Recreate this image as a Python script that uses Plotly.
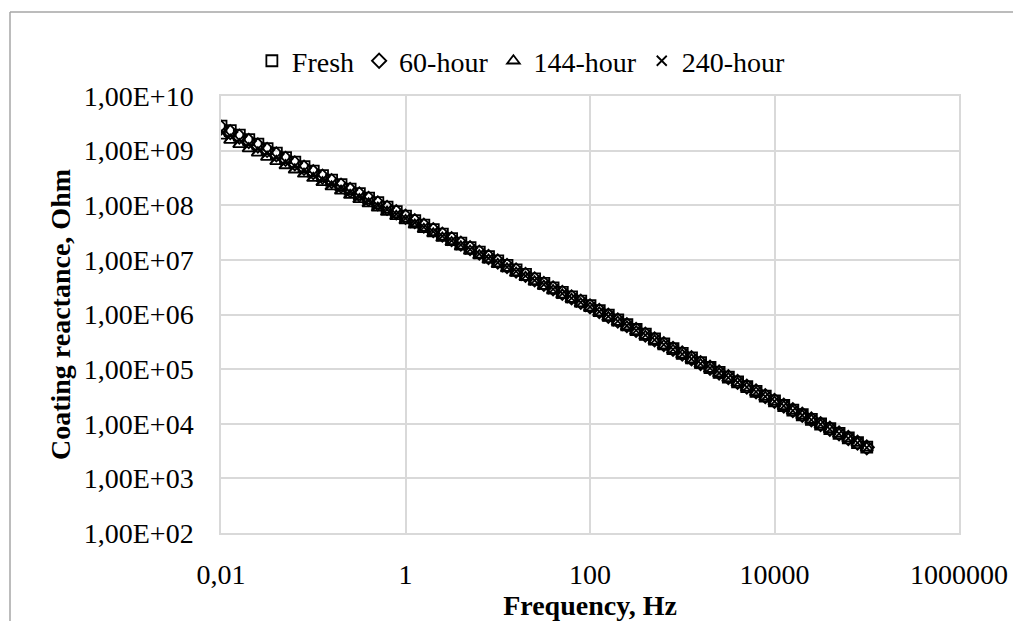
import plotly.graph_objects as go

# Frequencies (Hz), 10 points per decade
freq = [0.01, 0.0126, 0.0158, 0.02, 0.0251, 0.0316, 0.0398, 0.0501, 0.0631, 0.0794,
        0.1, 0.126, 0.158, 0.2, 0.251, 0.316, 0.398, 0.501, 0.631, 0.794,
        1, 1.26, 1.58, 2, 2.51, 3.16, 3.98, 5.01, 6.31, 7.94,
        10, 12.6, 15.8, 20, 25.1, 31.6, 39.8, 50.1, 63.1, 79.4,
        100, 126, 158, 200, 251, 316, 398, 501, 631, 794,
        1000, 1260, 1580, 2000, 2510, 3160, 3980, 5010, 6310, 7940,
        10000, 12600, 15800, 20000, 25100, 31600, 39800, 50100, 63100, 79400, 100000]

fresh = [2.82e9, 2.33e9, 1.93e9, 1.59e9, 1.32e9, 1.09e9, 9.02e8, 7.46e8, 6.17e8, 5.10e8,
         4.22e8, 3.49e8, 2.88e8, 2.39e8, 1.97e8, 1.63e8, 1.35e8, 1.12e8, 9.23e7, 7.63e7,
         6.31e7, 5.22e7, 4.33e7, 3.58e7, 2.96e7, 2.45e7, 2.03e7, 1.68e7, 1.39e7, 1.15e7,
         9.55e6, 7.91e6, 6.55e6, 5.42e6, 4.49e6, 3.72e6, 3.08e6, 2.55e6, 2.11e6, 1.75e6,
         1.45e6, 1.18e6, 9.68e5, 7.93e5, 6.49e5, 5.31e5, 4.35e5, 3.56e5, 2.91e5, 2.38e5,
         1.95e5, 1.60e5, 1.31e5, 1.07e5, 8.75e4, 7.16e4, 5.86e4, 4.80e4, 3.93e4, 3.21e4,
         2.63e4, 2.16e4, 1.78e4, 1.46e4, 1.20e4, 9.89e3, 8.13e3, 6.68e3, 5.50e3, 4.52e3, 3.72e3]

h60 = [2.63e9, 2.18e9, 1.81e9, 1.50e9, 1.24e9, 1.03e9, 8.53e8, 7.07e8, 5.86e8, 4.86e8,
       4.03e8, 3.34e8, 2.77e8, 2.29e8, 1.90e8, 1.58e8, 1.31e8, 1.08e8, 8.97e7, 7.44e7,
       6.17e7, 5.11e7, 4.23e7, 3.50e7, 2.90e7, 2.40e7, 1.99e7, 1.64e7, 1.36e7, 1.13e7,
       9.33e6, 7.73e6, 6.40e6, 5.30e6, 4.39e6, 3.63e6, 3.01e6, 2.49e6, 2.06e6, 1.71e6,
       1.41e6, 1.16e6, 9.48e5, 7.77e5, 6.37e5, 5.22e5, 4.28e5, 3.50e5, 2.87e5, 2.35e5,
       1.93e5, 1.58e5, 1.29e5, 1.06e5, 8.69e4, 7.12e4, 5.83e4, 4.78e4, 3.92e4, 3.21e4,
       2.63e4, 2.15e4, 1.77e4, 1.46e4, 1.20e4, 9.85e3, 8.10e3, 6.66e3, 5.48e3, 4.50e3, 3.70e3]

h144 = [1.86e9, 1.56e9, 1.30e9, 1.09e9, 9.12e8, 7.63e8, 6.38e8, 5.34e8, 4.47e8, 3.74e8,
        3.13e8, 2.62e8, 2.19e8, 1.83e8, 1.53e8, 1.28e8, 1.07e8, 8.96e7, 7.50e7, 6.27e7,
        5.25e7, 4.37e7, 3.63e7, 3.02e7, 2.51e7, 2.09e7, 1.74e7, 1.45e7, 1.20e7, 1.00e7,
        8.32e6, 6.92e6, 5.75e6, 4.79e6, 3.98e6, 3.31e6, 2.75e6, 2.29e6, 1.91e6, 1.58e6,
        1.32e6, 1.08e6, 8.87e5, 7.28e5, 5.97e5, 4.90e5, 4.02e5, 3.30e5, 2.70e5, 2.22e5,
        1.82e5, 1.49e5, 1.22e5, 1.00e5, 8.24e4, 6.76e4, 5.55e4, 4.55e4, 3.73e4, 3.06e4,
        2.51e4, 2.07e4, 1.71e4, 1.41e4, 1.16e4, 9.55e3, 7.87e3, 6.49e3, 5.35e3, 4.41e3, 3.63e3]

h240 = [2.24e9, 1.86e9, 1.55e9, 1.29e9, 1.08e9, 8.96e8, 7.46e8, 6.22e8, 5.18e8, 4.31e8,
        3.59e8, 2.99e8, 2.49e8, 2.07e8, 1.73e8, 1.44e8, 1.20e8, 9.97e7, 8.30e7, 6.91e7,
        5.75e7, 4.78e7, 3.96e7, 3.29e7, 2.73e7, 2.26e7, 1.88e7, 1.56e7, 1.29e7, 1.07e7,
        8.91e6, 7.40e6, 6.14e6, 5.09e6, 4.23e6, 3.51e6, 2.91e6, 2.42e6, 2.00e6, 1.66e6,
        1.38e6, 1.13e6, 9.27e5, 7.59e5, 6.22e5, 5.10e5, 4.18e5, 3.42e5, 2.81e5, 2.30e5,
        1.88e5, 1.54e5, 1.26e5, 1.04e5, 8.49e4, 6.96e4, 5.70e4, 4.67e4, 3.83e4, 3.14e4,
        2.57e4, 2.12e4, 1.74e4, 1.43e4, 1.18e4, 9.72e3, 8.00e3, 6.58e3, 5.42e3, 4.46e3, 3.67e3]

series_names = ["Fresh", "60-hour", "144-hour", "240-hour"]

x_tickvals = [0.01, 1, 100, 10000, 1000000]
x_ticktext = ["0,01", "1", "100", "10000", "1000000"]
y_tickvals = [1e2, 1e3, 1e4, 1e5, 1e6, 1e7, 1e8, 1e9, 1e10]
y_ticktext = ["1,00E+02", "1,00E+03", "1,00E+04", "1,00E+05", "1,00E+06",
              "1,00E+07", "1,00E+08", "1,00E+09", "1,00E+10"]

FONT = "Liberation Serif"
GRID = "#d9d9d9"

fig = go.Figure()
styles = [
    dict(symbol="square-open", size=11, color="black", line=dict(color="black", width=1.8)),
    dict(symbol="diamond-open", size=11, color="black", line=dict(color="black", width=1.8)),
    dict(symbol="triangle-up-open", size=11, color="black", line=dict(color="black", width=1.8)),
    dict(symbol="x-thin", size=10, color="black", line=dict(color="black", width=1.8)),
]
for name, vals, st in zip(series_names, [fresh, h60, h144, h240], styles):
    fig.add_trace(go.Scatter(x=freq, y=vals, mode="markers", name=name, marker=st))

fig.update_layout(
    width=1013, height=613,
    margin=dict(l=213, r=62, t=88, b=88),
    paper_bgcolor="white", plot_bgcolor="white",
    font=dict(family=FONT, size=28, color="black"),
    legend=dict(orientation="h", x=0.407, xanchor="center", y=1.080, yanchor="middle",
                font=dict(family=FONT, size=28, color="black"),
                itemwidth=30, bgcolor="rgba(0,0,0,0)"),
    xaxis=dict(type="log", range=[-2, 6], tickvals=x_tickvals, ticktext=x_ticktext,
               showgrid=True, gridcolor=GRID, gridwidth=1.5,
               showline=True, linecolor=GRID, linewidth=1.5, mirror=True,
               zeroline=False, ticks="", ticklabelstandoff=16,
               tickfont=dict(family=FONT, size=28, color="black"),
               title=dict(text="Frequency, Hz", standoff=5,
                          font=dict(family=FONT, size=28, color="black", weight="bold")),
               automargin=False),
    yaxis=dict(type="log", range=[2, 10], tickvals=y_tickvals, ticktext=y_ticktext,
               showgrid=True, gridcolor=GRID, gridwidth=1.5,
               showline=True, linecolor=GRID, linewidth=1.5, mirror=True,
               zeroline=False, ticks="", ticklabelstandoff=20,
               tickfont=dict(family=FONT, size=28, color="black"),
               title=dict(text="Coating reactance, Ohm", standoff=5,
                          font=dict(family=FONT, size=28, color="black", weight="bold")),
               automargin=False),
    shapes=[
        dict(type="line", xref="paper", yref="paper", x0=-0.2859, x1=-0.2859, y0=-0.3, y1=1.1922,
             line=dict(color="#a6a6a6", width=1.5)),
        dict(type="line", xref="paper", yref="paper", x0=-0.2859, x1=1.2, y0=1.1922, y1=1.1922,
             line=dict(color="#a6a6a6", width=1.5)),
    ],
)

fig.write_html("out.html")
